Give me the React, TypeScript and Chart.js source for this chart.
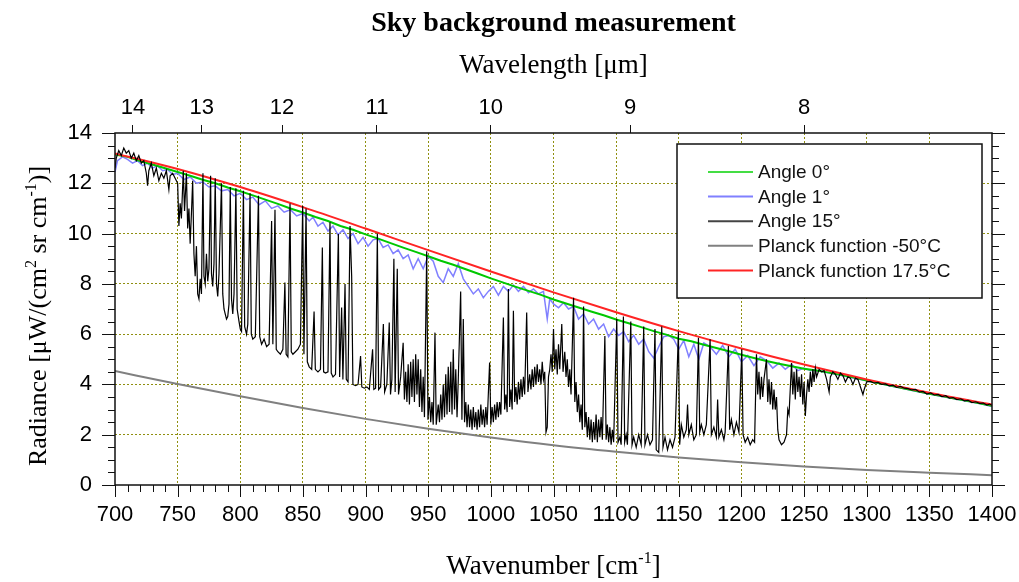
import React, { useEffect, useRef } from "react";
import { Chart, registerables } from "chart.js";

Chart.register(...registerables);

const SANS = "'Liberation Sans', Arial, sans-serif";
const SERIF = "'Liberation Serif', 'Times New Roman', serif";

const TITLE = "Sky background measurement";
const TOP_AXIS_TITLE = "Wavelength [μm]";
const WAVELENGTH_TICKS = [14, 13, 12, 11, 10, 9, 8];
const LEGEND_LABELS = ["Angle 0°", "Angle 1°", "Angle 15°", "Planck function -50°C", "Planck function 17.5°C"];

// Planck curves (read at 50 cm-1 steps)
const PLANCK_NU = [700, 750, 800, 850, 900, 950, 1000, 1050, 1100, 1150, 1200, 1250, 1300, 1350, 1400];
const PLANCK_17_5C = [13.19, 12.57, 11.85, 11.05, 10.2, 9.34, 8.49, 7.66, 6.87, 6.12, 5.43, 4.79, 4.2, 3.67, 3.2];
const PLANCK_M50C = [4.53, 4.02, 3.53, 3.06, 2.63, 2.24, 1.89, 1.58, 1.32, 1.09, 0.9, 0.74, 0.6, 0.49, 0.39];

// Angle 0° (10 cm-1 steps)
const ANGLE0_NU = [700, 710, 720, 730, 740, 750, 760, 770, 780, 790, 800, 810, 820, 830, 840, 850, 860, 870, 880, 890, 900, 910, 920, 930, 940, 950, 960, 970, 980, 990, 1000, 1010, 1020, 1030, 1040, 1050, 1060, 1070, 1080, 1090, 1100, 1110, 1120, 1130, 1140, 1150, 1160, 1170, 1180, 1190, 1200, 1210, 1220, 1230, 1240, 1250, 1260, 1270, 1280, 1290, 1300, 1310, 1320, 1330, 1340, 1350, 1360, 1370, 1380, 1390, 1400];
const ANGLE0 = [13.15, 13.05, 12.88, 12.75, 12.6, 12.45, 12.3, 12.14, 12.0, 11.83, 11.68, 11.52, 11.35, 11.18, 11.0, 10.84, 10.66, 10.5, 10.3, 10.15, 9.97, 9.8, 9.62, 9.44, 9.27, 9.1, 8.92, 8.76, 8.58, 8.4, 8.22, 8.05, 7.88, 7.72, 7.56, 7.38, 7.22, 7.06, 6.9, 6.75, 6.58, 6.43, 6.28, 6.12, 5.98, 5.82, 5.72, 5.58, 5.45, 5.32, 5.18, 5.05, 4.93, 4.82, 4.72, 4.62, 4.55, 4.47, 4.37, 4.27, 4.16, 4.05, 3.95, 3.84, 3.74, 3.63, 3.54, 3.44, 3.35, 3.25, 3.15];

// Angle 1° ([wavenumber, radiance])
const ANGLE1: [number, number][] = [
  [700, 12.45], [702, 12.9], [706, 13.05], [710, 12.95], [714, 12.8], [718, 12.9], [722, 12.7], [726, 12.8], [730, 12.6], [734, 12.7], [738, 12.5], [742, 12.55], [746, 12.35], [750, 12.4], [755, 12.15], [760, 12.25], [765, 12.0], [770, 12.05], [775, 11.85], [780, 11.9], [785, 11.7], [790, 11.75], [795, 11.5], [800, 11.6], [805, 11.35], [810, 11.45], [815, 11.15], [820, 11.3], [825, 11.0], [830, 11.1], [835, 10.85], [840, 10.95], [845, 10.7], [850, 10.8], [855, 10.5], [858, 10.65], [862, 10.3], [866, 10.45], [870, 10.1], [874, 10.3], [878, 9.95], [882, 10.15], [886, 9.8], [890, 10.0], [894, 9.6], [898, 9.85], [902, 9.5], [906, 9.75], [910, 9.8], [914, 9.45], [918, 9.55], [922, 9.2], [926, 9.35], [930, 9.0], [934, 9.15], [938, 8.6], [942, 9.0], [946, 8.6], [950, 9.1], [954, 8.9], [958, 8.3], [962, 8.05], [966, 8.6], [970, 8.3], [974, 8.8], [978, 8.2], [982, 7.9], [986, 7.6], [990, 7.8], [994, 7.45], [998, 7.7], [1002, 7.9], [1006, 7.55], [1010, 7.9], [1014, 7.7], [1018, 7.95], [1022, 7.7], [1026, 7.9], [1030, 7.65], [1034, 7.8], [1038, 7.6], [1042, 7.7], [1045, 6.6], [1047, 7.4], [1050, 7.2], [1054, 7.05], [1058, 7.25], [1062, 7.0], [1066, 7.1], [1070, 6.6], [1074, 6.8], [1078, 6.4], [1082, 6.6], [1086, 6.2], [1090, 6.4], [1094, 5.9], [1098, 6.2], [1102, 5.95], [1106, 6.1], [1110, 5.7], [1114, 5.95], [1118, 5.6], [1122, 5.8], [1126, 5.3], [1130, 5.05], [1134, 5.5], [1138, 5.9], [1142, 5.95], [1146, 5.8], [1150, 5.4], [1154, 5.75], [1158, 5.1], [1162, 5.6], [1166, 5.0], [1170, 5.65], [1175, 5.5], [1180, 5.2], [1185, 5.55], [1190, 5.1], [1195, 5.4], [1200, 4.9], [1205, 5.15], [1210, 4.75], [1215, 5.1], [1220, 4.95], [1225, 4.65], [1230, 4.85], [1235, 4.6], [1240, 4.8], [1245, 4.55], [1250, 4.65], [1255, 4.55], [1260, 4.55], [1270, 4.45], [1280, 4.35], [1290, 4.25], [1300, 4.15], [1310, 4.05], [1320, 3.93], [1330, 3.83], [1340, 3.72], [1350, 3.62], [1360, 3.52], [1370, 3.43], [1380, 3.33], [1390, 3.24], [1400, 3.12],
];

// Angle 15° ([wavenumber, radiance])
const ANGLE15: [number, number][] = [
  [700, 12.6], [701, 13.0], [703, 13.3], [705, 13.1], [707, 13.4], [709, 13.2], [711, 13.3], [713, 13.0], [715, 13.2], [717, 12.9], [719, 13.1], [721, 12.8], [723, 12.9], [725, 12.4], [726, 11.9], [727, 12.5], [729, 12.8], [731, 12.3], [733, 12.6], [735, 12.1], [737, 12.4], [739, 12.2], [741, 12.5], [743, 11.75], [744, 12.3], [746, 12.4], [748, 12.2], [750, 12.0],
  [751, 10.3], [752, 11.2], [753, 10.6], [754.5, 12.5], [755.5, 10.9], [757, 12.4], [758, 10.2], [759, 11.0], [760, 9.6], [761, 10.8], [762, 12.1], [763, 9.2], [764, 8.3], [765, 9.5], [766, 7.6], [767, 7.4], [768, 8.2], [769, 7.6], [770.2, 12.4], [771, 8.3], [772, 8.0], [773, 9.2], [774, 8.1], [775, 8.6], [776.3, 12.3], [777, 8.4], [778, 7.9], [779, 8.8], [780, 12.2], [781, 8.0], [782, 7.5], [783, 8.4], [785, 12.0], [786, 7.6], [787, 7.0], [788, 6.8], [789, 6.6], [790, 6.7], [791, 7.2], [792, 11.85], [793, 7.4], [794, 6.8], [795, 7.6], [796.5, 11.8], [797.5, 7.0], [799, 6.5], [800, 6.2],
  [801, 6.1], [802.5, 11.7], [803.5, 6.3], [805, 6.0], [806, 6.4], [807.8, 11.6], [808.8, 6.0], [810, 5.8], [812, 5.9], [814.5, 11.5], [815.5, 5.9], [817, 5.6], [819, 5.8], [821, 5.5], [823, 5.6], [825, 10.5], [826, 5.6], [827.7, 10.95], [828.7, 5.4], [830, 5.3], [832, 5.2], [834, 5.4], [835.6, 8.05], [836.6, 5.2], [838, 5.1], [839.7, 11.2], [840.7, 5.3], [842, 5.2], [844, 5.3], [846, 5.4], [848, 5.6], [849.8, 11.1], [850.8, 5.2], [852.5, 11.0], [853.5, 4.9],
  [855, 4.7], [857, 4.6], [858.9, 6.9], [859.9, 4.6], [862, 4.5], [864, 4.6], [865.5, 9.45], [866.5, 4.5], [868, 4.45], [870, 4.5], [871.6, 10.45], [872.6, 4.45], [874, 4.3], [876, 4.4], [878.3, 9.98], [879.3, 4.3], [880.9, 7.06], [881.9, 4.2], [883.6, 7.99], [884.6, 4.2], [886, 4.1], [887.6, 10.3], [888.9, 8.3], [889.9, 4.0], [892, 3.95], [894, 4.0], [896, 5.13], [897, 3.9], [899, 3.85], [901, 3.9], [903, 3.8], [905.6, 5.4], [906.6, 3.8], [908, 3.85], [909.4, 10.0], [910.4, 3.8], [912, 3.9], [914.2, 6.4], [915.2, 3.7], [917, 4.0], [918.9, 6.46], [919.9, 3.6], [921, 4.2], [922.6, 9.0], [923.6, 3.7], [925.3, 8.6], [926.3, 3.6], [928, 4.3], [930, 5.66], [931, 3.4], [932, 4.5], [933, 3.3], [934, 4.8], [935, 3.2], [936, 4.9], [937, 3.5], [938, 5.0], [939, 3.3], [940, 5.2], [941, 3.6], [942, 5.0], [943, 3.1], [944, 4.6], [945, 2.9], [946, 4.3], [947, 2.7], [948.8, 9.3], [949.8, 2.6], [951, 3.5], [952, 2.5], [953, 3.3], [954, 2.4], [955.4, 6.06], [956.4, 2.4], [958, 3.2], [959, 2.5], [960, 3.6], [961, 2.6], [962, 4.0], [963, 2.7], [964, 4.4], [965, 2.8], [966, 4.7], [967, 2.9], [968, 4.9], [969, 2.8], [970, 5.4], [971, 3.0], [972, 4.6], [973, 2.7], [974, 4.2], [975.9, 7.7], [976.9, 2.6], [978, 6.6], [979, 2.5], [980, 3.3], [981, 2.3], [982, 3.2], [983, 2.3], [984, 3.0], [985, 2.2], [986, 3.1], [987, 2.3], [988, 2.9], [989, 2.2], [990, 3.0], [991, 2.3], [992, 3.2], [993, 2.4], [994, 3.0], [995, 2.3], [996, 3.1], [997, 2.4], [999, 4.87], [1000, 2.4],
  [1001, 3.1], [1002, 2.5], [1003, 3.2], [1004, 2.6], [1005, 3.3], [1006, 2.7], [1007, 3.3], [1008, 2.8], [1010, 6.66], [1011, 3.0], [1012, 3.6], [1013, 2.9], [1014, 7.8], [1015, 3.1], [1016, 3.8], [1017, 3.0], [1018, 6.93], [1019, 3.3], [1020, 3.9], [1021, 3.2], [1022, 4.1], [1023, 3.4], [1024, 4.2], [1025, 3.5], [1026, 4.3], [1027, 3.6], [1028.6, 6.86], [1029.6, 3.7], [1031, 4.4], [1032, 3.8], [1033, 4.6], [1034, 3.9], [1035, 4.7], [1036, 4.0], [1037, 4.8], [1038, 4.1], [1039, 4.6], [1040, 4.0], [1041, 4.9], [1042, 4.2], [1043, 4.5], [1044, 2.1], [1045, 2.3], [1046, 4.3], [1047, 4.6], [1048, 5.2], [1049, 4.5], [1050, 6.2], [1051, 4.6], [1052, 5.4], [1053, 4.4], [1054, 5.6], [1055, 4.6], [1056.6, 6.4], [1057.6, 4.5], [1059, 5.3], [1060, 4.3], [1061, 5.0], [1062, 3.9], [1063, 4.6], [1064, 3.6], [1066, 7.45], [1067, 3.3], [1068, 4.1], [1069, 2.9], [1070, 3.6], [1071, 2.5], [1072, 3.2], [1073, 2.2], [1074, 7.1], [1075, 2.3], [1076, 2.9], [1077, 1.9], [1078, 2.7], [1079, 1.8], [1080, 2.6], [1081, 1.7], [1082, 2.5], [1083, 1.8], [1084, 2.8], [1085, 1.7], [1086, 2.6], [1087, 1.9], [1088, 2.7], [1089, 1.8], [1091, 5.93], [1092, 1.8], [1093, 2.4], [1094, 1.7], [1095, 2.3], [1096, 1.6], [1097, 2.2], [1098, 1.7], [1100.5, 6.6], [1101.5, 1.7],
  [1103, 1.9], [1104, 1.6], [1105.8, 6.7], [1106.8, 1.7], [1108, 2.0], [1109, 1.6], [1111.7, 6.5], [1112.7, 1.6], [1114, 1.9], [1116, 1.5], [1118, 2.0], [1120, 1.6], [1122, 6.3], [1123, 1.6], [1125, 2.0], [1127, 1.6], [1129, 1.8], [1131, 6.2], [1132, 1.4], [1134, 1.3], [1136.4, 6.3], [1137.4, 1.5], [1139, 1.9], [1141, 1.4], [1143, 1.8], [1145, 1.5], [1147, 1.9], [1149.7, 6.1], [1150.7, 1.6], [1152, 2.4], [1154, 1.9], [1156, 2.2], [1157, 3.2], [1158, 2.0], [1160, 2.4], [1162, 1.8], [1164, 2.0], [1165.7, 5.86], [1166.7, 2.1], [1168, 2.4], [1170, 2.0], [1172, 2.4], [1175, 5.8], [1176, 2.0], [1178, 2.3], [1180, 1.9], [1181, 3.4], [1182, 1.9], [1184, 2.2], [1186, 1.8], [1187, 2.1], [1189.6, 5.53], [1190.6, 2.2], [1192, 2.6], [1194, 2.0], [1196, 2.5], [1198, 2.1], [1200.3, 5.4], [1201.3, 2.0], [1203, 1.7], [1205, 1.9], [1207, 1.6], [1209, 1.8], [1210.5, 1.7], [1212, 5.2], [1213, 3.6], [1214, 4.5], [1215, 3.4], [1216, 4.3], [1217, 3.5], [1218, 4.2], [1220, 5.0], [1221, 3.3], [1222, 4.2], [1223, 3.2], [1224, 4.1], [1225, 3.0], [1226, 3.8], [1227, 3.0], [1228, 3.5], [1229, 2.2], [1230, 1.8], [1232, 1.6], [1234, 1.7], [1236, 2.0], [1237, 3.0], [1238, 2.8], [1240, 4.85], [1241, 3.6], [1242, 4.5], [1243, 3.4], [1244, 4.6], [1245, 3.7], [1246, 4.3], [1247, 3.5], [1248, 4.4], [1249, 3.2], [1250, 4.1], [1251, 2.75], [1252, 3.6], [1253, 4.2], [1254, 3.7], [1255, 4.5], [1256, 3.9], [1257, 4.6], [1258, 4.1], [1259, 4.65], [1260, 4.3],
  [1262, 4.6], [1264, 4.5], [1266, 4.55], [1268, 4.2], [1270, 3.7], [1271, 4.3], [1273, 4.5], [1275, 4.4], [1277, 4.2], [1279, 4.45], [1281, 4.35], [1283, 4.1], [1285, 4.3], [1287, 4.25], [1289, 4.0], [1291, 4.25], [1293, 4.2], [1295, 3.9], [1297, 3.6], [1298, 3.8], [1300, 4.1], [1303, 4.12], [1306, 4.05], [1309, 4.08], [1312, 4.0], [1315, 4.02], [1318, 3.94], [1321, 3.97], [1324, 3.88], [1327, 3.92], [1330, 3.85], [1333, 3.83], [1336, 3.78], [1339, 3.8], [1342, 3.7], [1345, 3.72], [1348, 3.62], [1351, 3.66], [1354, 3.58], [1357, 3.6], [1360, 3.52], [1363, 3.55], [1366, 3.46], [1369, 3.48], [1372, 3.4], [1375, 3.43], [1378, 3.35], [1381, 3.37], [1384, 3.28], [1387, 3.31], [1390, 3.25], [1393, 3.26], [1396, 3.18], [1398, 3.22], [1400, 3.17],
];

type Part = [string, boolean];

function drawRich(ctx: CanvasRenderingContext2D, parts: Part[], cx: number, baseline: number, size: number, weight = "normal") {
  const supSize = Math.round(size * 0.6);
  const widths = parts.map(([t, sup]) => {
    ctx.font = `${weight} ${sup ? supSize : size}px ${SERIF}`;
    return ctx.measureText(t).width;
  });
  const total = widths.reduce((a, b) => a + b, 0);
  let x = cx - total / 2;
  ctx.textAlign = "left";
  ctx.textBaseline = "alphabetic";
  parts.forEach(([t, sup], i) => {
    ctx.font = `${weight} ${sup ? supSize : size}px ${SERIF}`;
    ctx.fillText(t, x, sup ? baseline - size * 0.4 : baseline);
    x += widths[i];
  });
}

const textPlugin = {
  id: "texts",
  afterDraw(chart: any) {
    const { ctx, chartArea } = chart;
    const cx = (chartArea.left + chartArea.right) / 2;
    ctx.save();
    ctx.fillStyle = "#000";
    drawRich(ctx, [[TITLE, false]], cx, 31, 28, "bold");
    drawRich(ctx, [[TOP_AXIS_TITLE, false]], cx, 73, 27);
    drawRich(ctx, [["Wavenumber [cm", false], ["-1", true], ["]", false]], cx, 574, 27);
    ctx.translate(46, (chartArea.top + chartArea.bottom) / 2 + 7);
    ctx.rotate(-Math.PI / 2);
    drawRich(ctx, [["Radiance [μW/(cm", false], ["2", true], [" sr cm", false], ["-1", true], [")]", false]], 0, 0, 26);
    ctx.restore();
  },
};

const framePlugin = {
  id: "frame",
  afterDatasetsDraw(chart: any) {
    const { ctx, chartArea: a, scales } = chart;
    const xs = scales.x;
    const ys = scales.y;
    ctx.save();
    ctx.strokeStyle = "#111";
    ctx.lineWidth = 1;
    ctx.beginPath();
    for (let v = 700; v <= 1400; v += 10) {
      const p = Math.round(xs.getPixelForValue(v)) + 0.5;
      const len = v % 50 === 0 ? 12 : 7;
      ctx.moveTo(p, a.bottom);
      ctx.lineTo(p, a.bottom + len);
    }
    for (let v = 0; v <= 14; v += 0.5) {
      const p = Math.round(ys.getPixelForValue(v)) + 0.5;
      const len = v % 2 === 0 ? 13 : 7;
      ctx.moveTo(a.left - len, p);
      ctx.lineTo(a.left, p);
      ctx.moveTo(a.right, p);
      ctx.lineTo(a.right + len, p);
    }
    ctx.stroke();
    ctx.lineWidth = 1.5;
    ctx.strokeRect(a.left, a.top, a.right - a.left, a.bottom - a.top);
    ctx.restore();
  },
};

const legendPlugin = {
  id: "boxLegend",
  afterDraw(chart: any) {
    const { ctx } = chart;
    const byLabel: Record<string, any> = {};
    chart.data.datasets.forEach((d: any) => (byLabel[d.label] = d));
    ctx.save();
    ctx.fillStyle = "#fff";
    ctx.fillRect(677, 144, 305, 154);
    ctx.strokeStyle = "#111";
    ctx.lineWidth = 1.5;
    ctx.strokeRect(677, 144, 305, 154);
    ctx.font = `19px ${SANS}`;
    ctx.textBaseline = "middle";
    ctx.textAlign = "left";
    LEGEND_LABELS.forEach((label, i) => {
      const y = 172 + i * 24.6;
      const ds = byLabel[label];
      ctx.strokeStyle = ds.legendColor || ds.borderColor;
      ctx.lineWidth = 2;
      ctx.beginPath();
      ctx.moveTo(708, y);
      ctx.lineTo(753, y);
      ctx.stroke();
      ctx.fillStyle = "#111";
      ctx.fillText(label, 758, y + 1);
    });
    ctx.restore();
  },
};

const GRID_COLOR = "#8f8f10";

export default function App() {
  const ref = useRef<HTMLCanvasElement>(null);
  useEffect(() => {
    const canvas = ref.current;
    if (!canvas) return;
    const line = { pointRadius: 0, pointHoverRadius: 0, fill: false };
    const chart = new Chart(canvas, {
      type: "line",
      data: {
        datasets: [
          { ...line, label: "Angle 15°", data: ANGLE15.map(([x, y]) => ({ x, y })), borderColor: "#000", legendColor: "#444", borderWidth: 1.2, tension: 0 } as any,
          { ...line, label: "Planck function 17.5°C", data: PLANCK_NU.map((x, i) => ({ x, y: PLANCK_17_5C[i] })), borderColor: "#ff2424", borderWidth: 2, cubicInterpolationMode: "monotone" },
          { ...line, label: "Angle 0°", data: ANGLE0_NU.map((x, i) => ({ x, y: ANGLE0[i] })), borderColor: "#00c800", legendColor: "#44dd44", borderWidth: 2, tension: 0 } as any,
          { ...line, label: "Angle 1°", data: ANGLE1.map(([x, y]) => ({ x, y })), borderColor: "#8080ff", borderWidth: 1.5, tension: 0 },
          { ...line, label: "Planck function -50°C", data: PLANCK_NU.map((x, i) => ({ x, y: PLANCK_M50C[i] })), borderColor: "#808080", borderWidth: 2, cubicInterpolationMode: "monotone" },
        ],
      },
      options: {
        responsive: false,
        animation: false,
        devicePixelRatio: 1,
        layout: { padding: { left: 0, right: 27, top: 0, bottom: 0 } },
        plugins: { legend: { display: false }, title: { display: false }, tooltip: { enabled: false } },
        events: [],
        scales: {
          x: {
            type: "linear",
            position: "bottom",
            min: 700,
            max: 1400,
            ticks: { stepSize: 50, autoSkip: false, maxRotation: 0, padding: 5, color: "#000", font: { size: 22, family: SANS }, callback: (v: any) => String(v) },
            grid: {
              color: (c: any) => (c.tick && (c.tick.value === 700 || c.tick.value === 1400) ? "rgba(0,0,0,0)" : GRID_COLOR),
              lineWidth: 1,
              drawTicks: true,
              tickLength: 12,
              tickColor: "rgba(0,0,0,0)",
            },
            border: { display: false, dash: [2, 2] },
            afterFit: (s: any) => { s.height = 97; s.paddingLeft = 0; s.paddingRight = 0; },
          },
          x2: {
            type: "linear",
            position: "top",
            min: 700,
            max: 1400,
            afterBuildTicks: (s: any) => { s.ticks = WAVELENGTH_TICKS.map((w) => ({ value: 10000 / w })); },
            ticks: { autoSkip: false, maxRotation: 0, padding: 4, color: "#000", font: { size: 22, family: SANS }, callback: (v: any) => String(Math.round(10000 / Number(v))) },
            grid: { drawOnChartArea: false, drawTicks: true, tickLength: 8, tickColor: "#111", tickWidth: 1 },
            border: { display: false },
            afterFit: (s: any) => { s.height = 133; s.paddingLeft = 0; s.paddingRight = 0; },
          },
          y: {
            type: "linear",
            min: 0,
            max: 14,
            ticks: { stepSize: 2, padding: 10, color: "#000", font: { size: 22, family: SANS }, callback: (v: any) => String(v) },
            grid: {
              color: (c: any) => (c.tick && (c.tick.value === 0 || c.tick.value === 14) ? "rgba(0,0,0,0)" : GRID_COLOR),
              lineWidth: 1,
              drawTicks: true,
              tickLength: 13,
              tickColor: "rgba(0,0,0,0)",
            },
            border: { display: false, dash: [2, 2] },
            afterFit: (s: any) => { s.width = 115; s.paddingTop = 0; s.paddingBottom = 0; },
          },
        },
      } as any,
      plugins: [textPlugin, framePlugin, legendPlugin],
    });
    return () => chart.destroy();
  }, []);
  return (
    <div style={{ position: "fixed", left: 0, top: 0, width: 1019, height: 582, background: "#fff" }}>
      <canvas ref={ref} width={1019} height={582} style={{ display: "block", width: 1019, height: 582 }} />
    </div>
  );
}
